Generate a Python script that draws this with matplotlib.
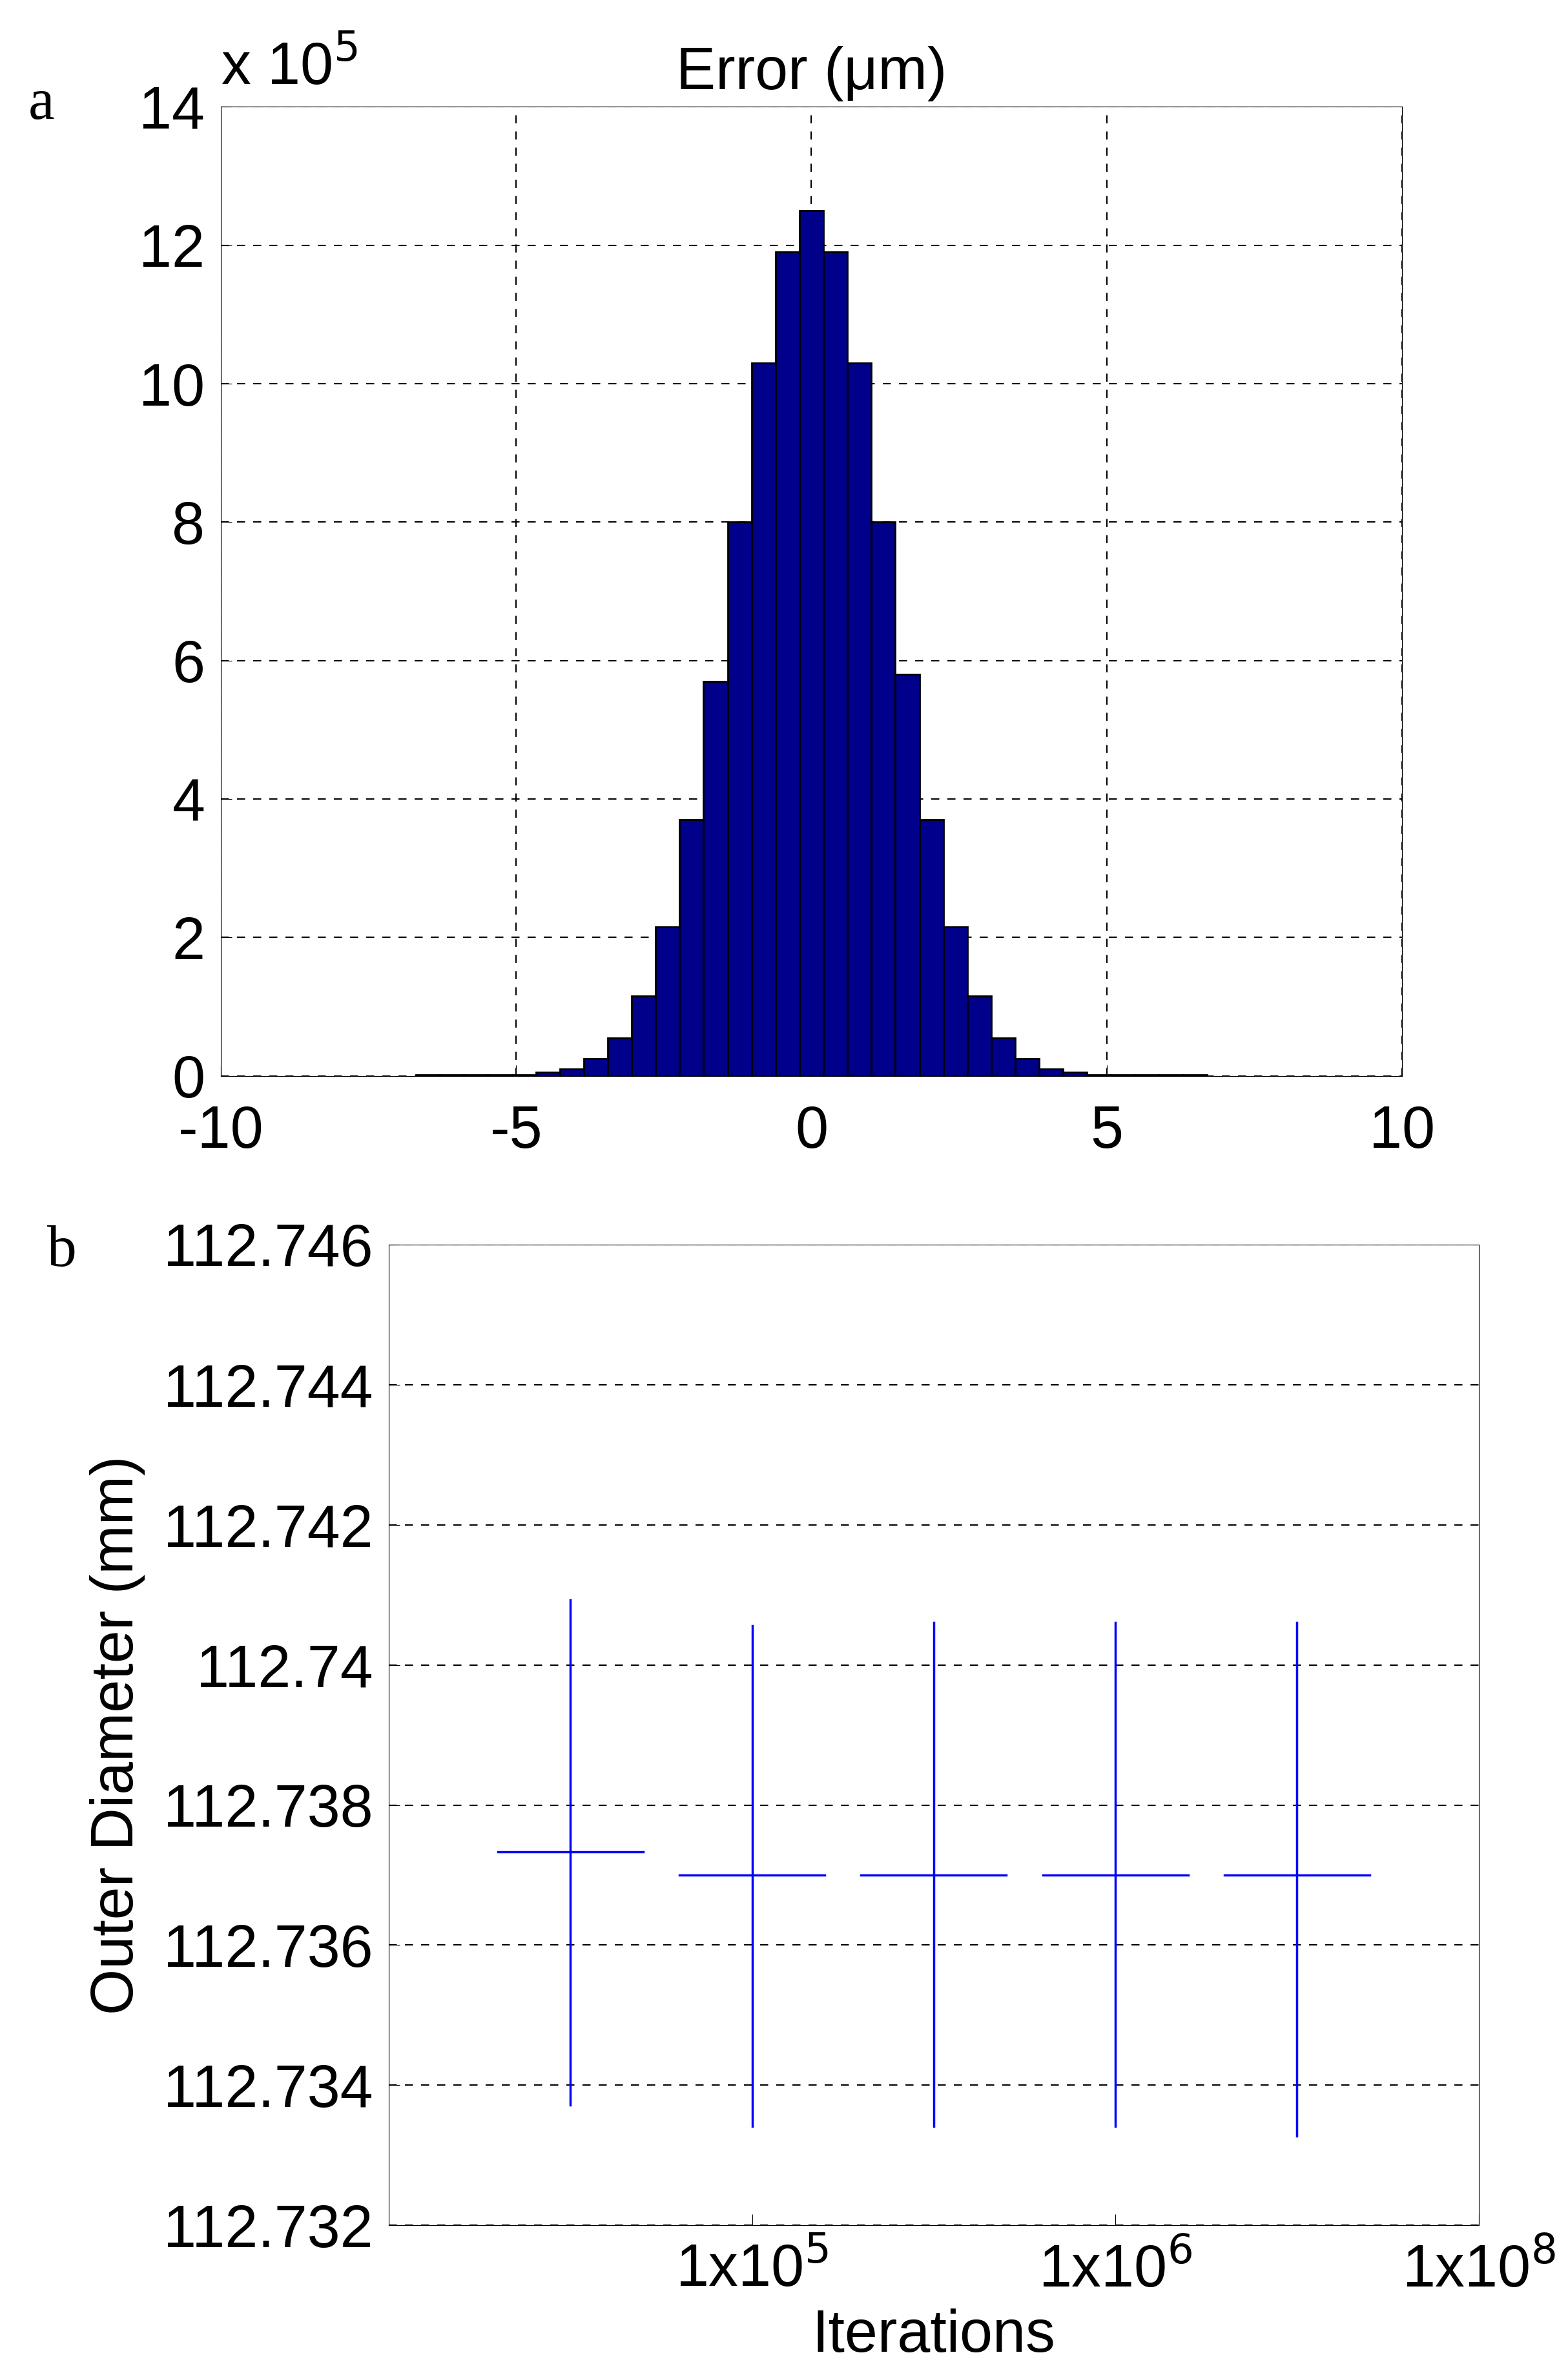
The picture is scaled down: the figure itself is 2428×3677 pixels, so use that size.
import numpy as np
import matplotlib.pyplot as plt

plt.rcParams['font.family'] = ['Liberation Sans', 'DejaVu Sans']
plt.rcParams['axes.unicode_minus'] = False

# histogram (33 bins over about -6.7..6.7 um, counts in units of 1e5)
bin_w = 0.406
centres = (np.arange(33) - 16) * bin_w
counts = [0.02, 0.02, 0.02, 0.02, 0.02, 0.05, 0.1, 0.25, 0.55, 1.15, 2.15, 3.7, 5.7, 8.0, 10.3, 11.9,
          12.5,
          11.9, 10.3, 8.0, 5.8, 3.7, 2.15, 1.15, 0.55, 0.25, 0.1, 0.05, 0.02, 0.02, 0.02, 0.02, 0.02]

# outer diameter vs iterations
pos = [1, 2, 3, 4, 5]
mean_d = [112.73733, 112.7370, 112.7370, 112.7370, 112.7370]
low_d = [112.73372, 112.73341, 112.73341, 112.73341, 112.73328]
high_d = [112.74093, 112.74056, 112.74060, 112.74060, 112.74060]

fig = plt.figure(figsize=(24.28, 36.77), dpi=100)
fs = 66

ax1 = fig.add_axes([0.141, 0.547, 0.753, 0.408])
ax1.bar(centres, np.array(counts) * 1e5, width=bin_w, color='#00008B', edgecolor='black', linewidth=2)
ax1.set_xlim(-10, 10)
ax1.set_ylim(0, 14e5)
ax1.set_xticks([-10, -5, 0, 5, 10])
ax1.set_yticks(np.arange(0, 14.1, 2) * 1e5)
ax1.set_yticklabels([str(v) for v in range(0, 15, 2)])
ax1.grid(True, color='black', linestyle=(0, (6, 6)), linewidth=1.5)
ax1.set_axisbelow(True)
ax1.tick_params(labelsize=fs, direction='in', length=12, pad=18)
ax1.tick_params(axis='x', pad=32)
ax1.set_title('Error (\u03bcm)', fontsize=fs, pad=20)
ax1.text(0.0, 1.01, r'x 10$^{5}$', transform=ax1.transAxes, fontsize=fs, va='bottom')
fig.text(0.018, 0.95, 'a', fontsize=fs, family='Liberation Serif')

ax2 = fig.add_axes([0.248, 0.063, 0.695, 0.413])
for x, m, lo, hi in zip(pos, mean_d, low_d, high_d):
    ax2.plot([x, x], [lo, hi], color='blue', linewidth=2.5)
    ax2.plot([x - 0.4, x + 0.4], [m, m], color='blue', linewidth=2.5)
ax2.set_xlim(0, 6)
ax2.set_ylim(112.732, 112.746)
ax2.set_xticks([2, 4, 6])
ax2.set_xticklabels([r'1x10$^{5}$', r'1x10$^{6}$', r'1x10$^{8}$'])
yt = [112.732, 112.734, 112.736, 112.738, 112.74, 112.742, 112.744, 112.746]
ax2.set_yticks(yt)
ax2.set_yticklabels(['%g' % v for v in yt])
ax2.yaxis.grid(True, color='black', linestyle=(0, (6, 6)), linewidth=1.5)
ax2.tick_params(labelsize=fs, direction='in', length=12, pad=18)
ax2.set_xlabel('Iterations', fontsize=fs, labelpad=10)
ax2.set_ylabel('Outer Diameter (mm)', fontsize=fs, labelpad=20)
fig.text(0.03, 0.467, 'b', fontsize=fs, family='Liberation Serif')

fig.savefig('out.png', dpi=100)
